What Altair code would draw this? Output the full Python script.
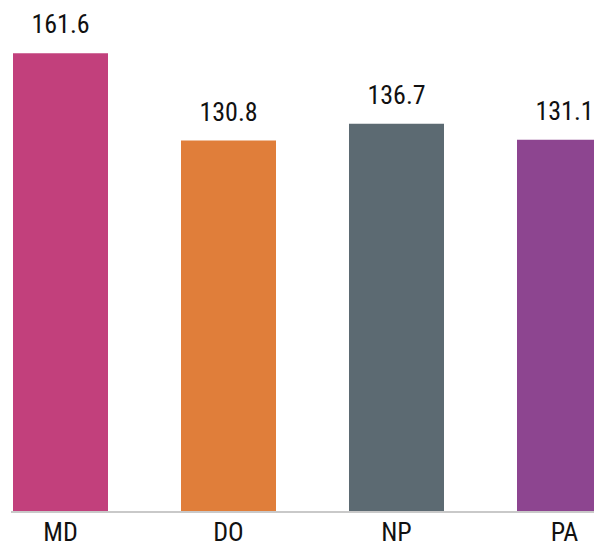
import altair as alt
import pandas as pd

categories = ["MD", "DO", "NP", "PA"]
values = [161.6, 130.8, 136.7, 131.1]
colors = ["#c2407c", "#e07e3a", "#5c6a72", "#8d4590"]
labels = ["161.6", "130.8", "136.7", "131.1"]

df = pd.DataFrame({"cat": categories, "val": values, "lab": labels})

FONT = "Roboto Condensed"

x = alt.X("cat:N", sort=categories,
          scale=alt.Scale(range=[2, 601], paddingInner=0.4345, paddingOuter=0),
          axis=alt.Axis(title=None, labelAngle=0, ticks=False, domain=False,
                        labelFont=FONT, labelFontSize=26,
                        labelColor="#111111", labelPadding=28, labelBaseline="alphabetic"))
y = alt.Y("val:Q", scale=alt.Scale(domain=[0, 177.5], nice=False), axis=None)

bars = alt.Chart(df).mark_bar(clip=True).encode(
    x=x, y=y,
    color=alt.Color("cat:N", scale=alt.Scale(domain=categories, range=colors), legend=None),
)
text = alt.Chart(df).mark_text(font=FONT, fontSize=26, dy=-20, baseline="alphabetic",
                               color="#111111").encode(
    x=alt.X("cat:N", sort=categories), y=y, text="lab:N")

base = alt.Chart(df).mark_rule(color="#c8c8c8", strokeWidth=1.5).encode(
    x=alt.value(0), x2=alt.value(583), y=alt.value(504))

chart = (bars + base + text).properties(
    width=583, height=504,
    autosize=alt.AutoSizeParams(type="none"),
    padding={"left": 3, "top": 0, "right": 0, "bottom": 36},
).configure_view(strokeWidth=0)

chart.save("out.html", embed_options={"renderer": "svg", "actions": False})
